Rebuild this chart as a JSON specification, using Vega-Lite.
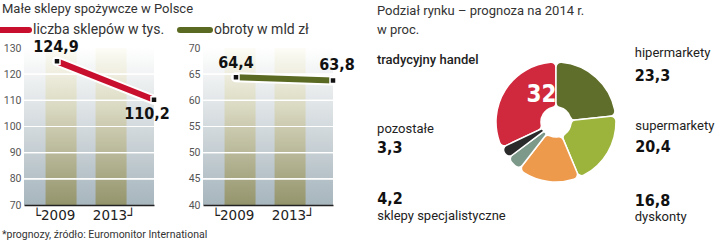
{
  "$schema": "https://vega.github.io/schema/vega-lite/v6.json",
  "padding": {"left": 2, "top": 3, "right": 0, "bottom": 4},
  "background": "white",
  "config": {
    "view": {"stroke": null},
    "font": "Roboto",
    "axisY": {"tickCount": 7, "labelOverlap": false},
    "locale": {"number": {"decimal": ",", "thousands": " ", "grouping": [3], "currency": ["", " zł"]}}
  },
  "title": {"text": "*prognozy, źródło: Euromonitor International", "orient": "bottom", "anchor": "start", "frame": "bounds", "fontSize": 10.5, "fontWeight": "normal", "color": "#333", "offset": 6},
  "spacing": 49,
  "bounds": "flush",
  "resolve": {"scale": {"color": "independent"}, "legend": {"color": "independent"}},
  "hconcat": [
    {
      "width": 130, "height": 157,
      "title": {"text": "Małe sklepy spożywcze w Polsce", "anchor": "start", "frame": "bounds", "fontSize": 13, "fontWeight": "normal", "color": "#333", "offset": 6},
      "data": {"values": [{"rok": "2009", "wartosc": 124.9}, {"rok": "2013", "wartosc": 110.2}]},
      "layer": [
        {"mark": {"type": "rect", "fill": {"gradient": "linear", "x1": 0, "y1": 0, "x2": 0, "y2": 1, "stops": [{"offset": 0, "color": "#ffffff"}, {"offset": 0.22, "color": "#eceff0"}, {"offset": 1, "color": "#a7b5bd"}]}},
         "encoding": {"y": {"datum": 130, "type": "quantitative", "scale": {"domain": [70, 130]}, "axis": {"values": [70, 80, 90, 100, 110, 120, 130], "labelOverlap": false, "grid": false, "domain": false, "ticks": false, "labelColor": "#555", "labelFontSize": 10.5, "labelPadding": 3, "title": null}}, "y2": {"datum": 70}}},
        {"mark": {"type": "rect", "fill": {"gradient": "linear", "x1": 0, "y1": 0, "x2": 0, "y2": 1, "stops": [{"offset": 0, "color": "#fdfcf6"}, {"offset": 0.3, "color": "#e2e1cc"}, {"offset": 1, "color": "#94946c"}]}},
         "encoding": {"x": {"field": "rok", "type": "ordinal", "scale": {"type": "band", "paddingInner": 0.38, "paddingOuter": 0.49, "align": 0.44}, "axis": {"title": null, "labelAngle": 0, "ticks": false, "domainColor": "#222", "domainWidth": 1.5, "labelFont": "DejaVu Sans", "labelFontSize": 13.5, "labelColor": "#222", "labelPadding": 3, "labelExpr": "datum.value == '2009' ? '└' + datum.label : datum.label + '┘'", "labelOffset": {"condition": {"test": "datum.value == '2009'", "value": -7}, "value": 3}}}, "y": {"datum": 130, "type": "quantitative"}, "y2": {"datum": 70}}},
        {"mark": {"type": "rule", "color": "white", "strokeWidth": 1.2}, "encoding": {"y": {"datum": 80, "type": "quantitative"}}},
        {"mark": {"type": "rule", "color": "white", "strokeWidth": 1.2}, "encoding": {"y": {"datum": 90, "type": "quantitative"}}},
        {"mark": {"type": "rule", "color": "white", "strokeWidth": 1.2}, "encoding": {"y": {"datum": 100, "type": "quantitative"}}},
        {"mark": {"type": "rule", "color": "white", "strokeWidth": 1.2}, "encoding": {"y": {"datum": 110, "type": "quantitative"}}},
        {"mark": {"type": "rule", "color": "white", "strokeWidth": 1.2}, "encoding": {"y": {"datum": 120, "type": "quantitative"}}},
        {"mark": {"type": "line", "stroke": "white", "strokeWidth": 10, "strokeCap": "round"},
         "encoding": {"x": {"field": "rok", "type": "ordinal", "scale": {"type": "point", "domain": ["2009", "2013"], "padding": 0.17, "align": 1}, "axis": null}, "y": {"field": "wartosc", "type": "quantitative"}}},
        {"mark": {"type": "line", "strokeWidth": 6, "strokeCap": "round"},
         "encoding": {"x": {"field": "rok", "type": "ordinal", "scale": {"type": "point", "domain": ["2009", "2013"], "padding": 0.17, "align": 1}, "axis": null}, "y": {"field": "wartosc", "type": "quantitative"},
           "color": {"datum": "liczba sklepów w tys.", "scale": {"range": ["#c8102e"]}, "legend": {"orient": "none", "legendX": -22, "legendY": -26, "title": null, "symbolType": "M-3,0H3", "symbolSize": 100, "symbolStrokeWidth": 6, "labelFontSize": 14, "labelColor": "#333", "labelOffset": 15, "encode": {"symbols": {"update": {"strokeCap": {"value": "round"}, "x": {"value": 12}}}}}}}},
        {"mark": {"type": "point", "shape": "square", "filled": true, "fill": "#111", "size": 36, "stroke": "white", "strokeWidth": 1.5, "opacity": 1},
         "encoding": {"x": {"field": "rok", "type": "ordinal", "scale": {"type": "point", "domain": ["2009", "2013"], "padding": 0.17, "align": 1}, "axis": null}, "y": {"field": "wartosc", "type": "quantitative"}}},
        {"transform": [{"filter": "datum.rok == '2009'"}],
         "mark": {"type": "text", "font": "DejaVu Sans Condensed", "fontWeight": "bold", "fontSize": 16, "dy": -14, "dx": -1, "color": "#111"},
         "encoding": {"x": {"field": "rok", "type": "ordinal", "scale": {"type": "point", "domain": ["2009", "2013"], "padding": 0.17, "align": 1}, "axis": null}, "y": {"field": "wartosc", "type": "quantitative"}, "text": {"field": "wartosc", "type": "quantitative", "format": ".1f"}}},
        {"transform": [{"filter": "datum.rok == '2013'"}],
         "mark": {"type": "text", "font": "DejaVu Sans Condensed", "fontWeight": "bold", "fontSize": 16, "dx": -7, "dy": 14, "color": "#111"},
         "encoding": {"x": {"field": "rok", "type": "ordinal", "scale": {"type": "point", "domain": ["2009", "2013"], "padding": 0.17, "align": 1}, "axis": null}, "y": {"field": "wartosc", "type": "quantitative"}, "text": {"field": "wartosc", "type": "quantitative", "format": ".1f"}}}
      ],
      "resolve": {"scale": {"x": "independent"}}
    },
    {
      "width": 130, "height": 157,
      "data": {"values": [{"rok": "2009", "wartosc": 64.4}, {"rok": "2013", "wartosc": 63.8}]},
      "layer": [
        {"mark": {"type": "rect", "fill": {"gradient": "linear", "x1": 0, "y1": 0, "x2": 0, "y2": 1, "stops": [{"offset": 0, "color": "#ffffff"}, {"offset": 0.22, "color": "#eceff0"}, {"offset": 1, "color": "#a7b5bd"}]}},
         "encoding": {"y": {"datum": 70, "type": "quantitative", "scale": {"domain": [40, 70]}, "axis": {"values": [40, 45, 50, 55, 60, 65, 70], "labelOverlap": false, "grid": false, "domain": false, "ticks": false, "labelColor": "#555", "labelFontSize": 10.5, "labelPadding": 3, "title": null}}, "y2": {"datum": 40}}},
        {"mark": {"type": "rect", "fill": {"gradient": "linear", "x1": 0, "y1": 0, "x2": 0, "y2": 1, "stops": [{"offset": 0, "color": "#fdfcf6"}, {"offset": 0.3, "color": "#e2e1cc"}, {"offset": 1, "color": "#94946c"}]}},
         "encoding": {"x": {"field": "rok", "type": "ordinal", "scale": {"type": "band", "paddingInner": 0.38, "paddingOuter": 0.49, "align": 0.44}, "axis": {"title": null, "labelAngle": 0, "ticks": false, "domainColor": "#222", "domainWidth": 1.5, "labelFont": "DejaVu Sans", "labelFontSize": 13.5, "labelColor": "#222", "labelPadding": 3, "labelExpr": "datum.value == '2009' ? '└' + datum.label : datum.label + '┘'", "labelOffset": {"condition": {"test": "datum.value == '2009'", "value": -7}, "value": 3}}}, "y": {"datum": 70, "type": "quantitative"}, "y2": {"datum": 40}}},
        {"mark": {"type": "rule", "color": "white", "strokeWidth": 1.2}, "encoding": {"y": {"datum": 45, "type": "quantitative"}}},
        {"mark": {"type": "rule", "color": "white", "strokeWidth": 1.2}, "encoding": {"y": {"datum": 50, "type": "quantitative"}}},
        {"mark": {"type": "rule", "color": "white", "strokeWidth": 1.2}, "encoding": {"y": {"datum": 55, "type": "quantitative"}}},
        {"mark": {"type": "rule", "color": "white", "strokeWidth": 1.2}, "encoding": {"y": {"datum": 60, "type": "quantitative"}}},
        {"mark": {"type": "rule", "color": "white", "strokeWidth": 1.2}, "encoding": {"y": {"datum": 65, "type": "quantitative"}}},
        {"mark": {"type": "line", "stroke": "white", "strokeWidth": 10, "strokeCap": "round"},
         "encoding": {"x": {"field": "rok", "type": "ordinal", "scale": {"type": "point", "domain": ["2009", "2013"], "padding": 0.17, "align": 1}, "axis": null}, "y": {"field": "wartosc", "type": "quantitative"}}},
        {"mark": {"type": "line", "strokeWidth": 6, "strokeCap": "round"},
         "encoding": {"x": {"field": "rok", "type": "ordinal", "scale": {"type": "point", "domain": ["2009", "2013"], "padding": 0.17, "align": 1}, "axis": null}, "y": {"field": "wartosc", "type": "quantitative"},
           "color": {"datum": "obroty w mld zł", "scale": {"range": ["#5b6a23"]}, "legend": {"orient": "none", "legendX": -20, "legendY": -26, "title": null, "symbolType": "M-3,0H3", "symbolSize": 100, "symbolStrokeWidth": 6, "labelFontSize": 14, "labelColor": "#333", "labelOffset": 15, "encode": {"symbols": {"update": {"strokeCap": {"value": "round"}, "x": {"value": 12}}}}}}}},
        {"mark": {"type": "point", "shape": "square", "filled": true, "fill": "#111", "size": 36, "stroke": "white", "strokeWidth": 1.5, "opacity": 1},
         "encoding": {"x": {"field": "rok", "type": "ordinal", "scale": {"type": "point", "domain": ["2009", "2013"], "padding": 0.17, "align": 1}, "axis": null}, "y": {"field": "wartosc", "type": "quantitative"}}},
        {"transform": [{"filter": "datum.rok == '2009'"}],
         "mark": {"type": "text", "font": "DejaVu Sans Condensed", "fontWeight": "bold", "fontSize": 16, "dy": -14, "color": "#111"},
         "encoding": {"x": {"field": "rok", "type": "ordinal", "scale": {"type": "point", "domain": ["2009", "2013"], "padding": 0.17, "align": 1}, "axis": null}, "y": {"field": "wartosc", "type": "quantitative"}, "text": {"field": "wartosc", "type": "quantitative", "format": ".1f"}}},
        {"transform": [{"filter": "datum.rok == '2013'"}],
         "mark": {"type": "text", "font": "DejaVu Sans Condensed", "fontWeight": "bold", "fontSize": 16, "dx": 4, "dy": -15, "color": "#111"},
         "encoding": {"x": {"field": "rok", "type": "ordinal", "scale": {"type": "point", "domain": ["2009", "2013"], "padding": 0.17, "align": 1}, "axis": null}, "y": {"field": "wartosc", "type": "quantitative"}, "text": {"field": "wartosc", "type": "quantitative", "format": ".1f"}}}
      ],
      "resolve": {"scale": {"x": "independent"}}
    },
    {
      "width": 348, "height": 148,
      "title": {"text": ["Podział rynku – prognoza na 2014 r.", "w proc."], "anchor": "start", "frame": "bounds", "fontSize": 13, "lineHeight": 19, "fontWeight": "normal", "color": "#333", "offset": 10},
      "data": {"values": [
        {"kategoria": "tradycyjny handel", "udzial": 32},
        {"kategoria": "hipermarkety", "udzial": 23.3},
        {"kategoria": "supermarkety", "udzial": 20.4},
        {"kategoria": "dyskonty", "udzial": 16.8},
        {"kategoria": "sklepy specjalistyczne", "udzial": 4.2},
        {"kategoria": "pozostałe", "udzial": 3.3}
      ]},
      "transform": [
        {"calculate": "indexof(['hipermarkety','supermarkety','dyskonty','sklepy specjalistyczne','pozostałe','tradycyjny handel'], datum.kategoria)", "as": "k"},
        {"stack": "udzial", "groupby": [], "sort": [{"field": "k", "order": "ascending"}], "as": ["t0", "t1"]},
        {"calculate": "(datum.t0 + datum.t1) / 2", "as": "tm"}
      ],
      "layer": [
        {"mark": {"type": "arc", "innerRadius": 15, "outerRadius": 60, "cornerRadius": 5, "stroke": "white", "strokeWidth": 1.5},
         "encoding": {
           "theta": {"field": "t0", "type": "quantitative", "scale": {"domain": [0, 100]}, "stack": null},
           "theta2": {"field": "t1"},
           "color": {"field": "kategoria", "type": "nominal", "legend": null, "scale": {"domain": ["tradycyjny handel", "hipermarkety", "supermarkety", "dyskonty", "sklepy specjalistyczne", "pozostałe"], "range": ["#d0283c", "#5f6e2a", "#9cb43c", "#ee9a4c", "#7d998a", "#2a2a2a"]}}
         }},
        {"transform": [{"filter": "datum.kategoria == 'tradycyjny handel'"}],
         "mark": {"type": "text", "radius": 36, "dx": 16, "dy": -8, "font": "DejaVu Sans Condensed", "fontWeight": "bold", "fontSize": 24, "color": "white"},
         "encoding": {"theta": {"field": "tm", "type": "quantitative", "stack": null}, "text": {"field": "udzial", "type": "quantitative", "format": "d"}}},
        {"transform": [{"filter": "datum.kategoria == 'tradycyjny handel'"}],
         "mark": {"type": "text", "radius": 70, "dx": -120, "dy": -24, "align": "left", "fontSize": 13, "fontWeight": 500, "color": "#222"},
         "encoding": {"theta": {"field": "tm", "type": "quantitative", "stack": null}, "text": {"field": "kategoria"}}},
        {"transform": [{"filter": "datum.kategoria == 'hipermarkety'"}],
         "mark": {"type": "text", "radius": 70, "dx": 32, "dy": -17, "align": "left", "fontSize": 13, "color": "#222"},
         "encoding": {"theta": {"field": "tm", "type": "quantitative", "stack": null}, "text": {"field": "kategoria"}}},
        {"transform": [{"filter": "datum.kategoria == 'hipermarkety'"}],
         "mark": {"type": "text", "radius": 70, "dx": 32, "dy": 6, "align": "left", "font": "DejaVu Sans Condensed", "fontWeight": "bold", "fontSize": 16, "color": "#111"},
         "encoding": {"theta": {"field": "tm", "type": "quantitative", "stack": null}, "text": {"field": "udzial", "type": "quantitative", "format": ".1f"}}},
        {"transform": [{"filter": "datum.kategoria == 'supermarkety'"}],
         "mark": {"type": "text", "radius": 70, "dx": 19, "dy": -32, "align": "left", "fontSize": 13, "color": "#222"},
         "encoding": {"theta": {"field": "tm", "type": "quantitative", "stack": null}, "text": {"field": "kategoria"}}},
        {"transform": [{"filter": "datum.kategoria == 'supermarkety'"}],
         "mark": {"type": "text", "radius": 70, "dx": 19, "dy": -11, "align": "left", "font": "DejaVu Sans Condensed", "fontWeight": "bold", "fontSize": 16, "color": "#111"},
         "encoding": {"theta": {"field": "tm", "type": "quantitative", "stack": null}, "text": {"field": "udzial", "type": "quantitative", "format": ".1f"}}},
        {"transform": [{"filter": "datum.kategoria == 'dyskonty'"}],
         "mark": {"type": "text", "radius": 70, "dx": 88, "dy": 10, "align": "left", "font": "DejaVu Sans Condensed", "fontWeight": "bold", "fontSize": 16, "color": "#111"},
         "encoding": {"theta": {"field": "tm", "type": "quantitative", "stack": null}, "text": {"field": "udzial", "type": "quantitative", "format": ".1f"}}},
        {"transform": [{"filter": "datum.kategoria == 'dyskonty'"}],
         "mark": {"type": "text", "radius": 70, "dx": 88, "dy": 26, "align": "left", "fontSize": 13, "color": "#222"},
         "encoding": {"theta": {"field": "tm", "type": "quantitative", "stack": null}, "text": {"field": "kategoria"}}},
        {"transform": [{"filter": "datum.kategoria == 'sklepy specjalistyczne'"}],
         "mark": {"type": "text", "radius": 70, "dx": -129, "dy": 28, "align": "left", "font": "DejaVu Sans Condensed", "fontWeight": "bold", "fontSize": 16, "color": "#111"},
         "encoding": {"theta": {"field": "tm", "type": "quantitative", "stack": null}, "text": {"field": "udzial", "type": "quantitative", "format": ".1f"}}},
        {"transform": [{"filter": "datum.kategoria == 'sklepy specjalistyczne'"}],
         "mark": {"type": "text", "radius": 70, "dx": -129, "dy": 45, "align": "left", "fontSize": 13, "color": "#222"},
         "encoding": {"theta": {"field": "tm", "type": "quantitative", "stack": null}, "text": {"field": "kategoria"}}},
        {"transform": [{"filter": "datum.kategoria == 'pozostałe'"}],
         "mark": {"type": "text", "radius": 70, "dx": -119, "dy": -29, "align": "left", "fontSize": 13, "color": "#222"},
         "encoding": {"theta": {"field": "tm", "type": "quantitative", "stack": null}, "text": {"field": "kategoria"}}},
        {"transform": [{"filter": "datum.kategoria == 'pozostałe'"}],
         "mark": {"type": "text", "radius": 70, "dx": -119, "dy": -10, "align": "left", "font": "DejaVu Sans Condensed", "fontWeight": "bold", "fontSize": 16, "color": "#111"},
         "encoding": {"theta": {"field": "tm", "type": "quantitative", "stack": null}, "text": {"field": "udzial", "type": "quantitative", "format": ".1f"}}}
      ]
    }
  ]
}
